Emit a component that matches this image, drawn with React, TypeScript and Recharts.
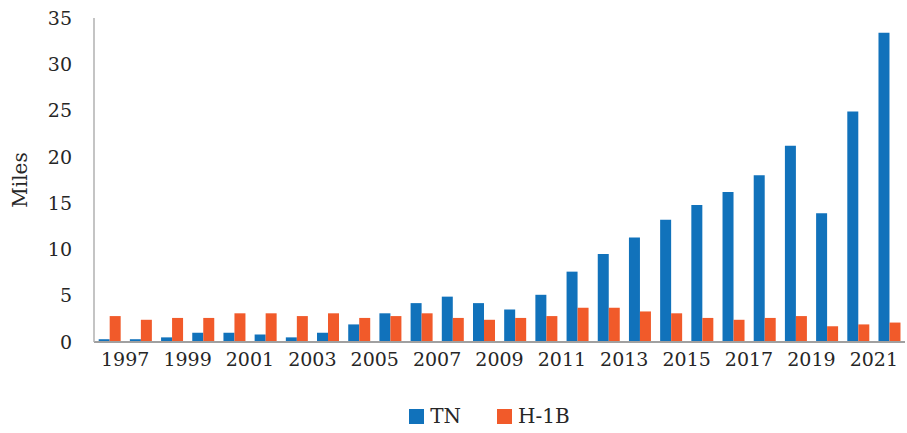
import { BarChart, Bar, XAxis, YAxis, Legend } from "recharts";

const years = [
  "1997", "1998", "1999", "2000", "2001", "2002", "2003", "2004", "2005", "2006",
  "2007", "2008", "2009", "2010", "2011", "2012", "2013", "2014", "2015", "2016",
  "2017", "2018", "2019", "2020", "2021", "2022",
];
const tn = [
  0.3, 0.3, 0.5, 1.0, 1.0, 0.8, 0.5, 1.0, 1.9, 3.1,
  4.2, 4.9, 4.2, 3.5, 5.1, 7.6, 9.5, 11.3, 13.2, 14.8,
  16.2, 18.0, 21.2, 13.9, 24.9, 33.4,
];
const h1b = [
  2.8, 2.4, 2.6, 2.6, 3.1, 3.1, 2.8, 3.1, 2.6, 2.8,
  3.1, 2.6, 2.4, 2.6, 2.8, 3.7, 3.7, 3.3, 3.1, 2.6,
  2.4, 2.6, 2.8, 1.7, 1.9, 2.1,
];
const yTicks = [0, 5, 10, 15, 20, 25, 30, 35];
const series = [
  { key: "TN", color: "#1172BB" },
  { key: "H-1B", color: "#F15A2A" },
];

const data = years.map((y, i) => ({ year: y, TN: tn[i], "H-1B": h1b[i] }));

const FONT = "'DejaVu Serif', serif";
const TEXT = "#262626";

const YearTick = (props: any) => {
  const { x, y, payload } = props;
  return (
    <text x={x + 15.6} y={y + 16} textAnchor="middle" fontFamily={FONT} fontSize={19} fill={TEXT}>
      {payload.value}
    </text>
  );
};

const LegendBox = () => (
  <div
    style={{
      height: 53,
      boxSizing: "border-box",
      paddingTop: 26,
      paddingLeft: 74,
      display: "flex",
      justifyContent: "center",
      alignItems: "flex-start",
      fontFamily: FONT,
      fontSize: 20,
      color: TEXT,
      lineHeight: "20px",
    }}
  >
    {series.map((s, i) => (
      <div key={s.key} style={{ display: "flex", alignItems: "center", marginRight: i === 0 ? 36 : 0 }}>
        <span style={{ display: "inline-block", width: 15, height: 15, background: s.color, marginRight: 6 }} />
        <span>{s.key}</span>
      </div>
    ))}
  </div>
);

export default function App() {
  return (
    <div style={{ position: "absolute", left: 0, top: 0, background: "#fff" }}>
      <BarChart
        width={907}
        height={433}
        data={data}
        margin={{ top: 18, right: 2, bottom: 0, left: 0 }}
        barCategoryGap="15%"
        barGap={0}
      >
        <XAxis
          dataKey="year"
          interval={1}
          tickLine={false}
          axisLine={{ stroke: "#A0A0A0", strokeWidth: 2 }}
          tick={<YearTick />}
          height={38}
        />
        <YAxis
          domain={[0, 35]}
          ticks={yTicks}
          width={94}
          tickLine={false}
          axisLine={{ stroke: "#B0B0B0", strokeWidth: 1.5 }}
          tick={{ fontFamily: FONT, fontSize: 19, fill: TEXT, dx: -14 }}
          label={{
            value: "Miles",
            angle: -90,
            position: "insideLeft",
            offset: 20,
            style: { fontFamily: FONT, fontSize: 20, fill: TEXT, textAnchor: "middle" },
          }}
        />
        <Legend verticalAlign="bottom" height={53} content={<LegendBox />} />
        {series.map((s) => (
          <Bar key={s.key} dataKey={s.key} fill={s.color} isAnimationActive={false} />
        ))}
      </BarChart>
    </div>
  );
}
